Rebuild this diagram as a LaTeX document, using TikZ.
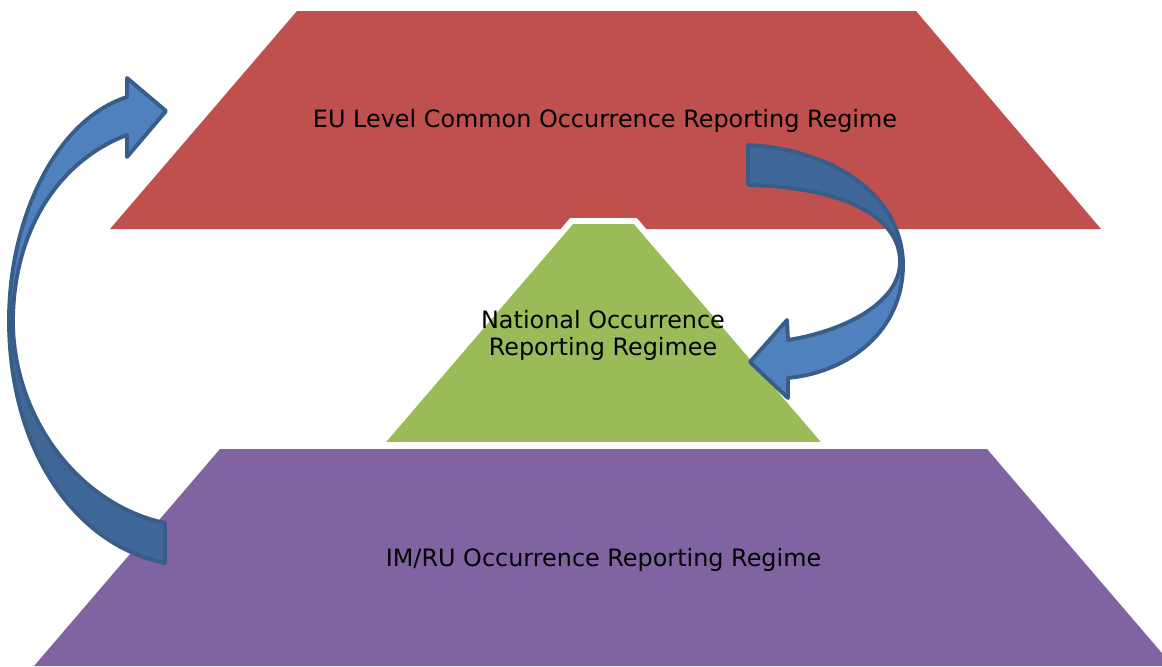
\documentclass[tikz,border=0pt]{standalone}
\usepackage{fontspec}
\setmainfont{DejaVu Sans}

\definecolor{euRed}{HTML}{C0504D}
\definecolor{natGreen}{HTML}{9BBB59}
\definecolor{imPurple}{HTML}{8064A2}
\definecolor{arrowLight}{HTML}{4F81BD}
\definecolor{arrowDark}{HTML}{3F6797}
\definecolor{arrowLine}{HTML}{385D8A}

% outline of the two curved block arrows (pixel units)
\newcommand{\loopArrowUp}{(127,97) .. controls (55,120) and (9,220) .. (9,320)
  .. controls (9,450) and (75,545) .. (165,563) -- (165,523)
  .. controls (80,505) and (15,420) .. (13,325)
  .. controls (12,230) and (60,160) .. (127,135)
  -- (127,157) -- (166,111) -- (127,78) -- cycle}
\newcommand{\loopArrowDown}{(748,145) .. controls (840,150) and (903,200) .. (903,265)
  .. controls (903,330) and (850,372) .. (788,378)
  -- (788,398) -- (750,362) -- (787,320) -- (788,340)
  .. controls (850,330) and (900,300) .. (900,262)
  .. controls (900,215) and (840,187) .. (748,185) -- cycle}

\begin{document}
\begin{tikzpicture}[x=0.02cm, y=-0.02cm,
    regime/.style={font=\fontsize{13.6}{15.3}\selectfont, inner sep=0pt, text=black},
    arrowrim/.style={draw=arrowLine, line width=2.2pt, line join=round}]

    % --- Frame ---
    \clip (0,0) rectangle (1162,666);

    % --- Layers ---
    % EU level (top)
    \fill[euRed] (297,11) -- (916,11) -- (1101,229) -- (110,229) -- cycle;

    % National level (middle), white rim
    \filldraw[fill=natGreen, draw=white, line width=3.4pt, line join=miter]
        (571.6,221) -- (635.4,221) -- (827.6,445) -- (379.4,445) -- cycle;

    % IM/RU level (bottom)
    \fill[imPurple] (220,449) -- (987,449) -- (1173,666) -- (34,666) -- cycle;

    % --- Labels ---
    \node[regime, anchor=base] (euText) at (605,127)
        {EU Level Common Occurrence Reporting Regime};
    % base of a two-line node sits on its last line
    \node[regime, anchor=base, align=center] (natText) at (603,355)
        {National Occurrence\\Reporting Regimee};
    \node[regime, anchor=base] (imText) at (603.5,566)
        {IM/RU Occurrence Reporting Regime};

    % --- Curved arrows ---
    % left: from IM/RU up to EU level, lower half darker
    \fill[arrowLight] \loopArrowUp;
    \begin{scope}
        \clip (0,325) rectangle (200,600);
        \fill[arrowDark] \loopArrowUp;
    \end{scope}
    \draw[arrowrim] \loopArrowUp;

    % right: from EU level down to national, upper half darker
    \fill[arrowLight] \loopArrowDown;
    \begin{scope}
        \clip (700,100) rectangle (950,265);
        \fill[arrowDark] \loopArrowDown;
    \end{scope}
    \draw[arrowrim] \loopArrowDown;

\end{tikzpicture}
\end{document}
